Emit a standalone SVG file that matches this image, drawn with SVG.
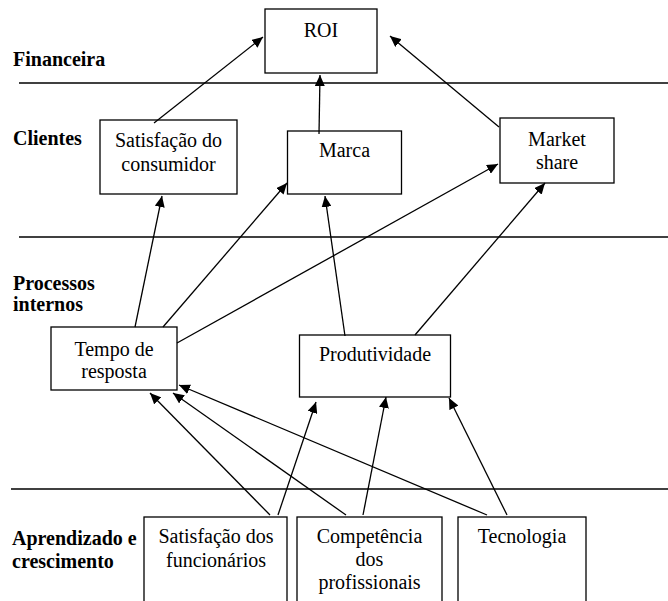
<svg xmlns="http://www.w3.org/2000/svg" width="668" height="601" viewBox="0 0 668 601">
  <style>
    .box { fill: #fff; stroke: #000; stroke-width: 1.3; }
    .sep { stroke: #000; stroke-width: 1.3; }
    .lbl { font-family: "Liberation Serif", "Times New Roman", serif; font-size: 20px; fill: #000; text-anchor: middle; }
    .lane { font-family: "Liberation Serif", "Times New Roman", serif; font-size: 20px; font-weight: bold; fill: #000; }
    .arr { fill: none; stroke: #000; stroke-width: 1.3; marker-end: url(#head); }
  </style>
  <defs>
    <marker id="head" markerUnits="userSpaceOnUse" markerWidth="12" markerHeight="10" refX="11" refY="5" orient="auto">
      <path d="M0,0 L11,5 L0,10 Z" fill="#000"/>
    </marker>
  </defs>
  <rect width="668" height="601" fill="#fff"/>

  <!-- lane separators -->
  <g id="separators">
    <line class="sep" x1="19" y1="83" x2="668" y2="83"/>
    <line class="sep" x1="19" y1="237" x2="668" y2="237"/>
    <line class="sep" x1="11" y1="489" x2="668" y2="489"/>
  </g>

  <!-- lane titles -->
  <g id="lanes">
    <text class="lane" x="13" y="66">Financeira</text>
    <text class="lane" x="13" y="145">Clientes</text>
    <text class="lane" x="13" y="290">Processos</text>
    <text class="lane" x="13" y="311">internos</text>
    <text class="lane" x="12" y="545">Aprendizado e</text>
    <text class="lane" x="12" y="568">crescimento</text>
  </g>

  <g id="roi">
    <rect class="box" x="265" y="9" width="112" height="64"/>
    <text class="lbl" x="321" y="37">ROI</text>
  </g>
  <g id="satisfacao-consumidor">
    <rect class="box" x="100" y="120" width="137" height="74"/>
    <text class="lbl" x="168.5" y="147">Satisfação do</text>
    <text class="lbl" x="168.5" y="171">consumidor</text>
  </g>
  <g id="marca">
    <rect class="box" x="287.5" y="131" width="114" height="63"/>
    <text class="lbl" x="344.5" y="157">Marca</text>
  </g>
  <g id="market-share">
    <rect class="box" x="500" y="118" width="114" height="65"/>
    <text class="lbl" x="557" y="146">Market</text>
    <text class="lbl" x="557" y="169">share</text>
  </g>
  <g id="tempo-resposta">
    <rect class="box" x="51" y="327" width="126" height="63"/>
    <text class="lbl" x="114" y="356">Tempo de</text>
    <text class="lbl" x="114" y="378">resposta</text>
  </g>
  <g id="produtividade">
    <rect class="box" x="299.5" y="335" width="151" height="62"/>
    <text class="lbl" x="375" y="361">Produtividade</text>
  </g>
  <g id="satisfacao-funcionarios">
    <rect class="box" x="144" y="517" width="143" height="100"/>
    <text class="lbl" x="216" y="543">Satisfação dos</text>
    <text class="lbl" x="216" y="567">funcionários</text>
  </g>
  <g id="competencia">
    <rect class="box" x="297" y="517" width="145" height="100"/>
    <text class="lbl" x="369.5" y="543">Competência</text>
    <text class="lbl" x="369.5" y="566">dos</text>
    <text class="lbl" x="369.5" y="589">profissionais</text>
  </g>
  <g id="tecnologia">
    <rect class="box" x="458" y="517" width="128" height="100"/>
    <text class="lbl" x="522" y="543">Tecnologia</text>
  </g>

  <!-- cause-and-effect arrows -->
  <g id="connectors">
    <path class="arr" d="M154,123 L263,37"/>
    <path class="arr" d="M319,134 L320,75"/>
    <path class="arr" d="M499,127 L390,36"/>
    <path class="arr" d="M135,327 L162,196"/>
    <path class="arr" d="M163,327 L287,183"/>
    <path class="arr" d="M177,343 L498,164"/>
    <path class="arr" d="M345,336 L325,196"/>
    <path class="arr" d="M415,335 L545,183"/>
    <path class="arr" d="M270,515 L150,393"/>
    <path class="arr" d="M278,515 L316,402"/>
    <path class="arr" d="M346,515 L173,393"/>
    <path class="arr" d="M363,515 L386,397"/>
    <path class="arr" d="M487,515 L179,385"/>
    <path class="arr" d="M507,515 L449,398"/>
  </g>
</svg>
